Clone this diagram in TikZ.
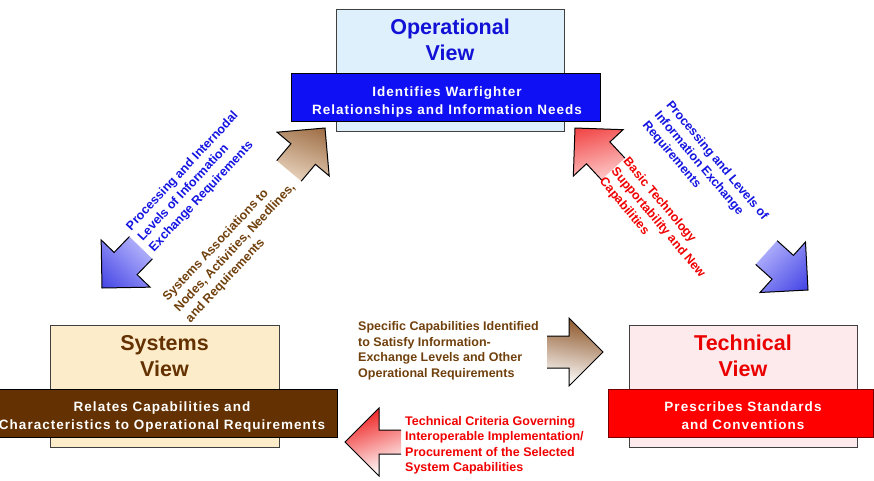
\documentclass[tikz,border=0pt]{standalone}
\usepackage{fontspec}
\setmainfont{Liberation Sans}
\newfontfamily\banfont[LetterSpace=7.5]{Liberation Sans}
\usetikzlibrary{calc}

\definecolor{opfill}{RGB}{222,240,252}
\definecolor{opblue}{RGB}{18,18,214}
\definecolor{banblue}{RGB}{16,16,245}
\definecolor{sysfill}{RGB}{253,236,202}
\definecolor{sysbrown}{RGB}{100,50,2}
\definecolor{tecfill}{RGB}{252,234,236}
\definecolor{tecred}{RGB}{235,0,0}
\definecolor{banred}{RGB}{255,0,0}
\definecolor{banredline}{RGB}{120,0,0}
\definecolor{labblue}{RGB}{20,20,225}
\definecolor{labbrown}{RGB}{112,64,12}
\definecolor{labred}{RGB}{240,0,0}
\definecolor{bluedark}{RGB}{45,45,225}
\definecolor{bluelight}{RGB}{195,195,255}
\definecolor{browndark}{RGB}{140,85,40}
\definecolor{brownlight}{RGB}{240,222,202}
\definecolor{reddark}{RGB}{238,30,30}
\definecolor{redlight}{RGB}{255,220,220}

% #1 tip, #2 angle, #3 shaft half width, #4 shading options, #5 shading box
\newcommand{\blockarr}[5]{%
  \begin{scope}
    \clip[shift={#1},rotate=#2] (0,0) -- (-34,-34) -- (-34,-#3) -- (-56,-#3) -- (-56,#3) -- (-34,#3) -- (-34,34) -- cycle;
    \shade[#4] #5;
  \end{scope}
  \draw[arrowline,shift={#1},rotate=#2] (-56,-#3) -- (-34,-#3) -- (-34,-34) -- (0,0) -- (-34,34) -- (-34,#3) -- (-56,#3);
}

\begin{document}
\begin{tikzpicture}[x=1pt,y=-1pt,
  viewbox/.style={draw=black!75, line width=0.9pt, minimum width=228pt, minimum height=122pt, inner sep=0pt},
  banner/.style={line width=0.9pt, minimum height=48pt, inner sep=0pt},
  viewtitle/.style={font=\fontsize{21.5}{26}\selectfont\bfseries, align=center, inner sep=0pt},
  bantext/.style={font={\banfont\fontsize{13.5}{18}\selectfont\bfseries}, align=center, text=white, inner sep=0pt},
  lab/.style={font=\fontsize{12.5}{15.5}\selectfont\bfseries, align=left, inner sep=0pt},
  arrowline/.style={draw=black, line width=1pt, line join=miter}]
\useasboundingbox (0,0) rectangle (874,480);
\clip (0,0) rectangle (874,480);

% view boxes
\node[viewbox, fill=opfill] (opbox) at (450,70) {};
\node[viewbox, fill=sysfill, minimum width=229pt] (sysbox) at (164.5,386) {};
\node[viewbox, fill=tecfill] (tecbox) at (743,386) {};

% titles
\node[viewtitle, text=opblue] (optitle) at (450,40) {Operational\\View};
\node[viewtitle, text=sysbrown] (systitle) at (164.5,356) {Systems\\View};
\node[viewtitle, text=tecred] (tectitle) at (743,356) {Technical\\View};

% banners
\node[banner, fill=banblue, draw=black, minimum width=309pt] (opban) at (445.5,97.5) {};
\node[banner, fill=sysbrown, draw=black, minimum width=348pt] (sysban) at (163,413) {};
\node[banner, fill=banred, draw=banredline, minimum width=265pt] (tecban) at (740.5,413) {};

\node[bantext] (opbantext) at (447,102.5) {Identifies Warfighter\\Relationships and Information Needs};
\node[bantext] (sysbantext) at (162,417) {Relates Capabilities and\\Characteristics to Operational Requirements};
\node[bantext] (tecbantext) at (743,416) {Prescribes Standards\\and Conventions};

% block arrows
\coordinate (tipBL) at (102,288);
\coordinate (tipBU) at (325,128);
\coordinate (tipRU) at (575,128);
\coordinate (tipBR) at (808,290);
\coordinate (tipBH) at (603,352);
\coordinate (tipRH) at (345,442);

\blockarr{(tipBL)}{226}{16}{top color=bluelight,bottom color=bluedark,shading angle=-45}{(81,228) rectangle (162,308)}
\blockarr{(tipBU)}{50}{16}{top color=browndark,bottom color=brownlight,shading angle=-20}{(267,109) rectangle (347,189)}
\blockarr{(tipRU)}{133}{16}{top color=reddark,bottom color=redlight,shading angle=15}{(554,108) rectangle (634,189)}
\blockarr{(tipBR)}{-42}{16}{top color=bluelight,bottom color=bluedark,shading angle=45}{(745,229) rectangle (827,311)}
\blockarr{(tipBH)}{0}{16}{top color=browndark,bottom color=white,shading angle=-10}{(547,318) rectangle (603,386)}
\blockarr{(tipRH)}{180}{12}{top color=reddark,bottom color=white,shading angle=20}{(345,408) rectangle (401,476)}

% labels
\node[lab, text=labblue, rotate=47] (procA) at (194,182) {Processing and Internodal\\Levels of Information\\Exchange Requirements};
\node[lab, text=labbrown, rotate=47] (sysassoc) at (235,248) {Systems Associations to\\Nodes, Activities, Needlines,\\and Requirements};
\node[lab, text=labblue, rotate=-50] (procC) at (705,171) {Processing and Levels of\\Information Exchange\\Requirements};
\node[lab, text=labred, rotate=-50] (basic) at (658,223) {Basic Technology\\Supportability and New\\Capabilities};
\node[lab, text=labbrown, anchor=north west] (specific) at (358,321.5) {Specific Capabilities Identified\\to Satisfy Information-\\Exchange Levels and Other\\Operational Requirements};
\node[lab, text=labred, anchor=north west] (criteria) at (405,416) {Technical Criteria Governing\\Interoperable Implementation/\\Procurement of the Selected\\System Capabilities};
\end{tikzpicture}
\end{document}
